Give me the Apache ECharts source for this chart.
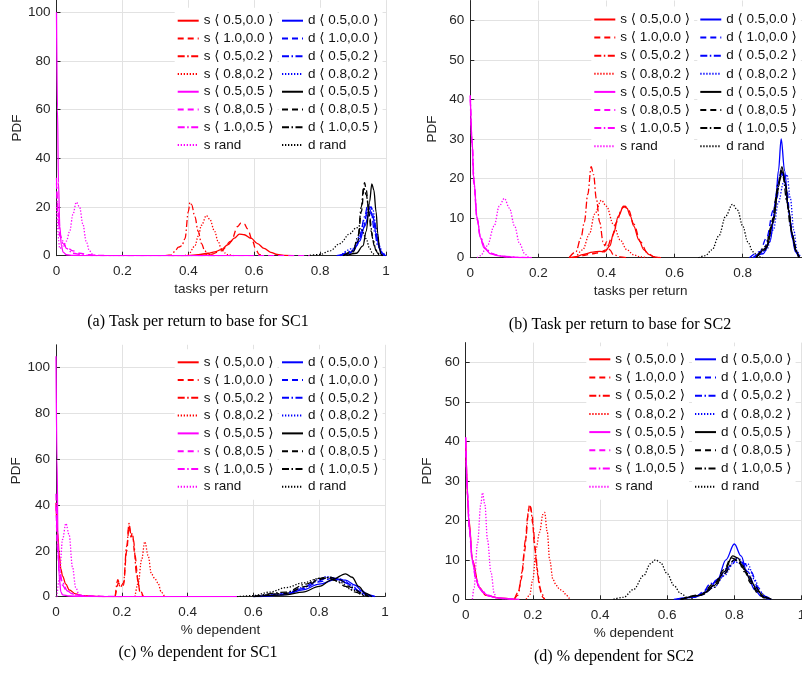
<!DOCTYPE html>
<html><head><meta charset="utf-8">
<script src="https://cdn.jsdelivr.net/npm/echarts@6/dist/echarts.min.js"></script>
<style>html,body{margin:0;padding:0;background:#fff}#c{width:802px;height:682px}</style>
</head><body><div id="c"></div>
<script>
// ---- legend names ----
const S_NAMES = ['s ⟨ 0.5,0.0 ⟩','s ⟨ 1.0,0.0 ⟩','s ⟨ 0.5,0.2 ⟩','s ⟨ 0.8,0.2 ⟩','s ⟨ 0.5,0.5 ⟩','s ⟨ 0.8,0.5 ⟩','s ⟨ 1.0,0.5 ⟩','s rand'];
const D_NAMES = ['d ⟨ 0.5,0.0 ⟩','d ⟨ 1.0,0.0 ⟩','d ⟨ 0.5,0.2 ⟩','d ⟨ 0.8,0.2 ⟩','d ⟨ 0.5,0.5 ⟩','d ⟨ 0.8,0.5 ⟩','d ⟨ 1.0,0.5 ⟩','d rand'];
const X_TITLES = ['tasks per return','tasks per return','% dependent','% dependent'];
const CAPTIONS = ['(a) Task per return to base for SC1','(b) Task per return to base for SC2','(c) % dependent for SC1','(d) % dependent for SC2'];
const Y_MAX = [105, 65, 110, 65];
const Y_STEP = [20, 10, 20, 10];

// ---- panel (a): tasks per return, SC1 ----
const a_s1 = [[0.35,0],[0.40,0.05],[0.43,0.4],[0.46,1],[0.48,1.6],[0.50,2.5],[0.52,4.5],[0.54,7.2],[0.555,8.9],[0.57,8.6],[0.59,7.2],[0.61,5],[0.63,3],[0.65,1.4],[0.67,0.5],[0.69,0.1],[0.72,0]];
const a_s2 = [[0.44,0],[0.47,0.6],[0.50,2],[0.53,6],[0.55,12],[0.56,13.5],[0.57,13],[0.58,11],[0.595,6],[0.605,2.5],[0.615,0.5],[0.625,0]];
const a_s3 = [[0.33,0],[0.35,0.3],[0.36,2],[0.37,3.5],[0.38,4],[0.39,7],[0.40,18],[0.405,22],[0.41,21],[0.42,16],[0.43,10],[0.44,5],[0.45,2],[0.46,0.8],[0.47,0.2],[0.48,0]];
const a_s4 = [[0.39,0],[0.40,0.5],[0.42,4],[0.43,8],[0.44,12.5],[0.455,16.5],[0.465,15],[0.48,10],[0.49,6],[0.50,3],[0.51,1.2],[0.52,0.4],[0.54,0]];
const a_s5 = [[0,100],[0.003,60],[0.006,30],[0.01,12],[0.015,4],[0.02,1.5],[0.03,0.4],[0.05,0.1],[0.1,0],[0.6,0]];
const a_s6 = [[0,30],[0.005,18],[0.01,9],[0.02,5],[0.03,3.5],[0.05,2],[0.07,1],[0.10,0.4],[0.13,0.1],[0.2,0],[0.77,0]];
const a_s7 = [[0,32],[0.005,15],[0.01,8],[0.02,6],[0.03,3],[0.05,1],[0.08,0.3],[0.12,0],[0.5,0]];
const a_s8 = [[0,20],[0.01,3],[0.02,4],[0.03,6],[0.04,10],[0.05,17],[0.06,22],[0.07,20],[0.08,13],[0.09,6],[0.10,2],[0.11,0.5],[0.12,0]];
const a_d1 = [[0.85,0],[0.88,0.5],[0.90,2],[0.92,6],[0.935,12],[0.95,18],[0.96,16],[0.97,9],[0.98,3],[0.99,0.5],[1,0]];
const a_d2 = [[0.86,0],[0.89,1],[0.91,4],[0.93,11],[0.945,19],[0.955,20],[0.965,14],[0.975,6],[0.985,1.5],[0.995,0]];
const a_d3 = [[0.86,0],[0.90,2],[0.92,7],[0.935,16],[0.945,21],[0.955,18],[0.965,10],[0.975,4],[0.99,0.5],[1,0]];
const a_d4 = [[0.86,0],[0.90,3],[0.92,8],[0.935,15],[0.95,20],[0.96,19],[0.97,12],[0.98,4],[0.99,1],[1,0]];
const a_d5 = [[0.88,0],[0.91,1],[0.93,4],[0.94,10],[0.95,22],[0.957,29.5],[0.963,27],[0.97,18],[0.975,9],[0.98,3],[0.985,0.5],[0.99,0]];
const a_d6 = [[0.87,0],[0.90,1.5],[0.915,6],[0.925,18],[0.935,30],[0.94,27],[0.948,18],[0.955,10],[0.965,4],[0.975,1],[0.99,0]];
const a_d7 = [[0.87,0],[0.90,2],[0.915,8],[0.925,20],[0.932,28],[0.94,25],[0.95,16],[0.96,7],[0.97,2],[0.98,0.3],[0.99,0]];
const a_d8 = [[0.76,0],[0.80,0.5],[0.83,2],[0.86,5],[0.89,9],[0.91,11.5],[0.925,11],[0.94,7],[0.95,3],[0.96,0.8],[0.97,0]];

// ---- panel (b): tasks per return, SC2 ----
const b_s1 = [[0.29,0],[0.31,0.2],[0.33,0.8],[0.36,1.4],[0.38,1.6],[0.395,1.5],[0.41,3],[0.42,6],[0.435,10.5],[0.45,13],[0.46,12.5],[0.47,10.5],[0.48,8],[0.495,4.5],[0.51,2],[0.525,0.8],[0.54,0.2],[0.555,0]];
const b_s2 = [[0.30,0],[0.33,0.5],[0.36,1],[0.38,1.3],[0.40,2],[0.415,5],[0.43,9],[0.445,12.5],[0.455,13],[0.465,12],[0.48,8.5],[0.50,4],[0.52,1.2],[0.54,0.2],[0.56,0]];
const b_s3 = [[0.29,0],[0.31,1.5],[0.325,5],[0.335,9],[0.345,16],[0.355,23],[0.362,21],[0.37,15],[0.38,9],[0.39,4],[0.395,3],[0.40,4],[0.41,2],[0.42,0.8],[0.44,0.2],[0.46,0]];
const b_s4 = [[0.31,0],[0.33,2],[0.35,6],[0.365,11],[0.385,14.5],[0.40,13],[0.42,8.5],[0.44,4.5],[0.46,2],[0.48,0.7],[0.50,0.2],[0.52,0]];
const b_s5 = [[0,41],[0.005,30],[0.01,20],[0.02,10],[0.03,5],[0.04,2.5],[0.06,1],[0.08,0.5],[0.10,0.3],[0.13,0.1],[0.18,0]];
const b_s6 = [[0,40],[0.005,29],[0.01,19],[0.02,9.5],[0.03,5],[0.04,2.6],[0.06,1.1],[0.09,0.4],[0.12,0.1],[0.17,0]];
const b_s7 = [[0,41],[0.006,28],[0.012,18],[0.02,10],[0.03,5.2],[0.045,2.2],[0.07,0.8],[0.10,0.3],[0.15,0]];
const b_s8 = [[0.02,0],[0.03,0.5],[0.05,3],[0.07,8],[0.085,13],[0.10,15],[0.115,12.5],[0.13,8],[0.145,3.5],[0.16,1],[0.17,0.2],[0.18,0]];
const b_d1 = [[0.83,0],[0.86,1],[0.88,4],[0.895,12],[0.905,22],[0.913,30],[0.923,22],[0.935,12],[0.945,5],[0.955,1.5],[0.965,0]];
const b_d2 = [[0.82,0],[0.85,1.5],[0.87,5],[0.89,12],[0.905,19],[0.918,22],[0.93,17],[0.94,9],[0.95,4],[0.96,1],[0.97,0]];
const b_d3 = [[0.83,0],[0.86,1.5],[0.88,6],[0.90,15],[0.912,22],[0.922,20],[0.935,12],[0.945,6],[0.955,2],[0.965,0]];
const b_d4 = [[0.84,0],[0.87,2],[0.89,7],[0.905,14],[0.92,19],[0.93,21],[0.94,15],[0.95,7],[0.96,1.5],[0.97,0]];
const b_d5 = [[0.84,0],[0.87,2.5],[0.89,9],[0.905,18],[0.915,23],[0.925,19],[0.935,12],[0.945,6],[0.955,2],[0.965,0]];
const b_d6 = [[0.84,0],[0.865,2],[0.885,8],[0.90,16],[0.913,22],[0.925,19],[0.935,12],[0.945,6],[0.958,1.5],[0.965,0]];
const b_d7 = [[0.84,0],[0.87,3],[0.89,10],[0.905,19],[0.917,21.5],[0.93,14],[0.94,8],[0.95,4],[0.96,1],[0.967,0]];
const b_d8 = [[0.67,0],[0.69,0.5],[0.71,2],[0.73,5.5],[0.75,10.5],[0.77,13.5],[0.785,12],[0.80,8],[0.815,4],[0.83,1.5],[0.845,0.3],[0.86,0]];

// ---- panel (c): % dependent, SC1 ----
const c_s1 = [[0,41],[0.005,28],[0.01,18],[0.015,12],[0.02,9],[0.03,5.5],[0.04,3],[0.06,1.2],[0.08,0.5],[0.12,0.1],[0.2,0]];
const c_s2 = [[0.18,0],[0.19,6],[0.195,5],[0.205,5],[0.215,20],[0.222,31],[0.228,26],[0.232,28],[0.24,18],[0.25,6],[0.255,2],[0.265,0]];
const c_s3 = [[0.18,0],[0.188,7.5],[0.195,4],[0.205,6],[0.215,22],[0.222,32],[0.228,27],[0.235,25],[0.245,10],[0.255,3],[0.265,0]];
const c_s4 = [[0.24,0],[0.25,6],[0.26,16],[0.27,24],[0.28,18],[0.29,10],[0.30,8],[0.31,6],[0.32,2],[0.33,0]];
const c_s5 = [[0,105],[0.003,60],[0.006,25],[0.01,8],[0.015,2],[0.02,0.8],[0.04,0.3],[0.08,0.1],[0.2,0],[0.55,0]];
const c_s6 = [[0,40],[0.005,20],[0.01,10],[0.02,5],[0.03,3],[0.05,1.2],[0.08,0.5],[0.12,0.2],[0.2,0]];
const c_s7 = [[0,45],[0.005,22],[0.01,12],[0.02,6],[0.035,2.5],[0.06,0.8],[0.10,0.2],[0.15,0]];
const c_s8 = [[0.003,0],[0.01,8],[0.02,25],[0.03,32],[0.04,27],[0.05,13],[0.06,4],[0.07,1],[0.08,0]];
const c_d1 = [[0.60,0],[0.65,0.3],[0.70,1],[0.75,3],[0.80,5.5],[0.85,7.5],[0.88,7.2],[0.91,5],[0.93,2.5],[0.95,0.8],[0.97,0]];
const c_d2 = [[0.62,0],[0.70,1.2],[0.75,3.5],[0.80,6.5],[0.84,8],[0.87,7.5],[0.90,5],[0.92,2.5],[0.95,0.5],[0.97,0]];
const c_d3 = [[0.60,0],[0.68,0.8],[0.74,3],[0.79,6.5],[0.83,8.5],[0.86,7.8],[0.89,5.5],[0.92,2.5],[0.94,0.8],[0.96,0]];
const c_d4 = [[0.60,0],[0.70,1.5],[0.75,4],[0.80,7.5],[0.82,8.8],[0.85,8],[0.88,6],[0.91,3],[0.94,0.8],[0.96,0]];
const c_d5 = [[0.60,0],[0.70,0.8],[0.75,2],[0.80,4.5],[0.84,7.5],[0.88,10],[0.90,8.5],[0.92,4.5],[0.94,1.5],[0.96,0]];
const c_d6 = [[0.60,0],[0.70,1.5],[0.76,4.5],[0.80,7.5],[0.83,8.5],[0.86,7.5],[0.90,4],[0.93,1.5],[0.95,0]];
const c_d7 = [[0.60,0],[0.70,2],[0.76,5.5],[0.80,8],[0.82,8.5],[0.85,7],[0.88,4.5],[0.91,2],[0.94,0.3],[0.95,0]];
const c_d8 = [[0.55,0],[0.60,0.5],[0.65,2],[0.70,4],[0.75,6],[0.80,8],[0.83,8.2],[0.86,6.5],[0.90,3],[0.93,1],[0.95,0]];

// ---- panel (d): % dependent, SC2 ----
const d_s1 = [[0,40],[0.01,20],[0.02,10],[0.04,3],[0.06,1],[0.10,0.3],[0.15,0]];
const d_s2 = [[0.145,0],[0.155,1],[0.165,5],[0.175,12],[0.185,21],[0.19,24],[0.197,22],[0.205,14],[0.212,8],[0.22,3],[0.23,0.5],[0.235,0]];
const d_s3 = [[0.145,0],[0.158,2],[0.168,7],[0.178,15],[0.188,23],[0.193,23.5],[0.20,19],[0.208,12],[0.215,6],[0.225,1.5],[0.235,0]];
const d_s4 = [[0.18,0],[0.19,1],[0.20,5],[0.21,13],[0.22,17],[0.23,21.5],[0.235,22],[0.243,17],[0.25,10],[0.26,5],[0.27,3.5],[0.28,2.5],[0.29,2],[0.30,1],[0.31,0]];
const d_s5 = [[0,41],[0.005,28],[0.01,19],[0.02,10],[0.03,5.5],[0.04,3],[0.05,1.8],[0.07,0.8],[0.10,0.3],[0.13,0.1],[0.16,0]];
const d_s6 = [[0,40],[0.005,27],[0.01,18],[0.02,9.5],[0.03,5.2],[0.04,2.9],[0.06,1.2],[0.09,0.4],[0.12,0.1],[0.15,0]];
const d_s7 = [[0,41],[0.006,26],[0.012,17],[0.02,10],[0.03,5.4],[0.045,2.4],[0.07,0.8],[0.10,0.3],[0.14,0]];
const d_s8 = [[0.02,0],[0.025,3],[0.035,14],[0.045,24],[0.05,27],[0.057,24],[0.065,15],[0.075,7],[0.085,1.5],[0.09,0]];
const d_d1 = [[0.62,0],[0.68,0.5],[0.72,2],[0.75,5],[0.775,10],[0.80,14],[0.82,11],[0.84,6],[0.86,2.5],[0.88,0.8],[0.90,0.1],[0.91,0]];
const d_d2 = [[0.63,0],[0.68,0.6],[0.72,2.5],[0.75,5],[0.78,8],[0.80,10],[0.82,9.5],[0.84,7],[0.86,3.5],[0.88,1],[0.90,0]];
const d_d3 = [[0.64,0],[0.70,1],[0.73,4],[0.76,5.5],[0.79,8.5],[0.81,10.5],[0.83,9],[0.85,7],[0.87,3],[0.89,0.8],[0.91,0]];
const d_d4 = [[0.64,0],[0.70,1],[0.74,3],[0.77,6],[0.80,9.5],[0.82,9],[0.84,9],[0.86,5],[0.88,1.5],[0.90,0.2],[0.91,0]];
const d_d5 = [[0.64,0],[0.70,1],[0.74,3.5],[0.77,7],[0.795,11],[0.81,10.5],[0.83,7.5],[0.85,4.5],[0.87,2],[0.89,0.5],[0.91,0]];
const d_d6 = [[0.64,0],[0.70,1.2],[0.74,4],[0.77,7.5],[0.79,10.5],[0.81,10],[0.83,7],[0.85,4],[0.87,1.5],[0.89,0.3],[0.90,0]];
const d_d7 = [[0.64,0],[0.70,1],[0.74,3],[0.77,6.5],[0.80,10],[0.82,9],[0.84,6.5],[0.86,3.5],[0.88,1.5],[0.90,0.3],[0.91,0]];
const d_d8 = [[0.44,0],[0.47,0.5],[0.50,2.5],[0.53,6],[0.55,9],[0.565,10],[0.58,9.3],[0.60,6.5],[0.62,3.5],[0.64,1.5],[0.66,0.5],[0.68,0]];

const PANELS = [
  [a_s1,a_s2,a_s3,a_s4,a_s5,a_s6,a_s7,a_s8,a_d1,a_d2,a_d3,a_d4,a_d5,a_d6,a_d7,a_d8],
  [b_s1,b_s2,b_s3,b_s4,b_s5,b_s6,b_s7,b_s8,b_d1,b_d2,b_d3,b_d4,b_d5,b_d6,b_d7,b_d8],
  [c_s1,c_s2,c_s3,c_s4,c_s5,c_s6,c_s7,c_s8,c_d1,c_d2,c_d3,c_d4,c_d5,c_d6,c_d7,c_d8],
  [d_s1,d_s2,d_s3,d_s4,d_s5,d_s6,d_s7,d_s8,d_d1,d_d2,d_d3,d_d4,d_d5,d_d6,d_d7,d_d8]
];

// ---- styling / layout ----
const FONT = '"Liberation Sans", Arial, Helvetica, "DejaVu Sans", sans-serif';
const AX = '#262626';
const COLORS = ['#ff0000','#ff0000','#ff0000','#ff0000','#ff00ff','#ff00ff','#ff00ff','#ff00ff',
                '#0000ff','#0000ff','#0000ff','#0000ff','#000000','#000000','#000000','#000000'];
const DASH = ['solid',[6,4],[7,2.5,1.5,2.5],[1.3,1.7]];
const GRIDS = [
  {left:56.5, top:0.1, width:329.5, height:255.6},
  {left:470.3, top:0.5, width:340.5, height:257.2},
  {left:56, top:344.8, width:329, height:251.9},
  {left:465.7, top:342.6, width:335.8, height:256.7}
];
const LEG = [ // [sLeft, dLeft, top, pitch]
  [174.7, 279, 7.7, 17.76],
  [591.3, 697.3, 6.5, 18.1],
  [174.7, 279, 349.3, 17.77],
  [586.3, 692, 346.3, 18.2]
];
const CAP_POS = [[198,322],[620,325],[198,653],[614,657]];

const ALL_NAMES = S_NAMES.concat(D_NAMES);
const series = [];
PANELS.forEach((curves, p) => {
  curves.forEach((data, i) => {
    series.push({
      type:'line', name: ALL_NAMES[i], xAxisIndex:p, yAxisIndex:p, data,
      symbol:'none', showSymbol:false, smooth:0.35, smoothMonotone:'x',
      lineStyle:{color:COLORS[i], width:1.3, type:DASH[i%4]},
      itemStyle:{color:COLORS[i]}, z:5, animation:false, silent:true
    });
  });
});

const legends = [];
LEG.forEach(([sl, dl, top, pitch]) => {
  [[S_NAMES, sl, 4], [D_NAMES, dl, 4]].forEach(([names, left, pr]) => {
    legends.push({
      data: names, orient:'vertical', left, top, itemWidth:21, itemHeight:1,
      itemGap: pitch - 14, padding:[6, pr, 6, 2], backgroundColor:'#ffffff',
      selectedMode:false, z:4,
      itemStyle:{color:'rgba(0,0,0,0)', borderColor:'rgba(0,0,0,0)', borderWidth:0},
      textStyle:{fontFamily:FONT, fontSize:13.5, color:'#111', lineHeight:14}
    });
  });
});

const xAxes = GRIDS.map((g, p) => ({
  gridIndex:p, type:'value', min:0, max:1, interval:0.2,
  name: X_TITLES[p], nameLocation:'middle', nameGap:27,
  nameTextStyle:{fontFamily:FONT, fontSize:13.5, color:AX},
  axisLine:{lineStyle:{color:AX, width:1}},
  axisTick:{inside:true, length:4, lineStyle:{color:AX}},
  axisLabel:{margin:9, fontFamily:FONT, fontSize:13.5, color:AX},
  splitLine:{show:true, lineStyle:{color:'#e2e2e2', width:1}}
}));
const yAxes = GRIDS.map((g, p) => ({
  gridIndex:p, type:'value', min:0, max:Y_MAX[p], interval:Y_STEP[p],
  name:'PDF', nameLocation:'middle', nameGap:31, nameRotate:90,
  nameTextStyle:{fontFamily:FONT, fontSize:13.5, color:AX},
  axisLine:{show:true, lineStyle:{color:AX, width:1}},
  axisTick:{show:true, inside:true, length:4, lineStyle:{color:AX}},
  axisLabel:{margin:6, fontFamily:FONT, fontSize:13.5, color:AX, showMaxLabel:false},
  splitLine:{show:true, showMaxLine:false, lineStyle:{color:'#e2e2e2', width:1}}
}));

const graphics = CAPTIONS.map((t, p) => ({
  type:'text', x:CAP_POS[p][0], y:CAP_POS[p][1], z:10,
  style:{text:t, textAlign:'center', textVerticalAlign:'middle', align:'center', verticalAlign:'middle',
         font:'16px "Liberation Serif", "Times New Roman", serif', fill:'#000'}
}));

const chart = echarts.init(document.getElementById('c'), null, {renderer:'canvas'});
chart.setOption({
  animation:false, backgroundColor:'#fff',
  grid: GRIDS.map(g => Object.assign({containLabel:false, outerBoundsMode:'none'}, g)),
  xAxis: xAxes, yAxis: yAxes, legend: legends, series, graphic: graphics
});
</script></body></html>
